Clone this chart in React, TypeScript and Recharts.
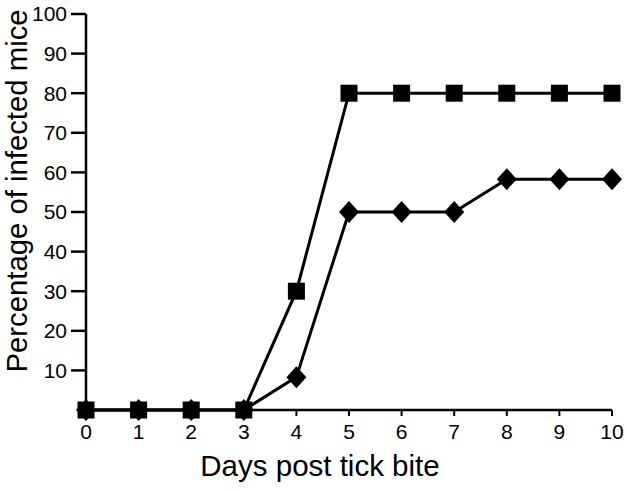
import React from "react";
import { LineChart, Line, XAxis, YAxis, Label } from "recharts";

const days = [0, 1, 2, 3, 4, 5, 6, 7, 8, 9, 10];
const squareSeries = [0, 0, 0, 0, 30, 80, 80, 80, 80, 80, 80];
const diamondSeries = [0, 0, 0, 0, 8.3, 50, 50, 50, 58.3, 58.3, 58.3];
const xTicks = [0, 1, 2, 3, 4, 5, 6, 7, 8, 9, 10];
const yTicks = [10, 20, 30, 40, 50, 60, 70, 80, 90, 100];

const data = days.map((d, i) => ({ day: d, sq: squareSeries[i], dia: diamondSeries[i] }));

const FONT = "'Liberation Sans', Arial, sans-serif";

const SquareDot = (props: any) => {
  const { cx, cy } = props;
  if (cx == null || cy == null) return null;
  const s = 17;
  return <rect x={cx - s / 2} y={cy - s / 2} width={s} height={s} fill="#000" />;
};

const DiamondDot = (props: any) => {
  const { cx, cy } = props;
  if (cx == null || cy == null) return null;
  const w = 10;
  const h = 11;
  return (
    <polygon
      points={`${cx},${cy - h} ${cx + w},${cy} ${cx},${cy + h} ${cx - w},${cy}`}
      fill="#000"
    />
  );
};

const YLabel = (props: any) => {
  const vb = props.viewBox || {};
  const x = 27;
  const y = (vb.y ?? 0) + (vb.height ?? 0) / 2 - 21;
  return (
    <text
      x={x}
      y={y}
      transform={`rotate(-90, ${x}, ${y})`}
      textAnchor="middle"
      style={{ fill: "#000", fontSize: 29.3, fontFamily: FONT }}
    >
      Percentage of infected mice
    </text>
  );
};

export default function App() {
  return (
    <div style={{ position: "absolute", left: 0, top: 0, width: 628, height: 491 }}>
      <LineChart
        width={628}
        height={491}
        data={data}
        margin={{ top: 14, right: 16, left: 0, bottom: 0 }}
      >
        <XAxis
          dataKey="day"
          type="number"
          domain={[0, 10]}
          ticks={xTicks}
          height={81}
          tickSize={6}
          tickMargin={8}
          axisLine={{ stroke: "#000", strokeWidth: 2.5 }}
          tickLine={{ stroke: "#000", strokeWidth: 2 }}
          tick={{ fill: "#000", fontSize: 21, fontFamily: FONT }}
        >
          <Label
            value="Days post tick bite"
            position="insideBottom"
            offset={15}
            dx={-29}
            style={{ fill: "#000", fontSize: 29.5, fontFamily: FONT }}
          />
        </XAxis>
        <YAxis
          type="number"
          domain={[0, 100]}
          ticks={yTicks}
          width={86}
          tickSize={15}
          tickMargin={4}
          axisLine={{ stroke: "#000", strokeWidth: 2.5 }}
          tickLine={{ stroke: "#000", strokeWidth: 2.5 }}
          tick={{ fill: "#000", fontSize: 21, fontFamily: FONT }}
        >
          <Label content={<YLabel />} />
        </YAxis>
        <Line
          dataKey="dia"
          stroke="#000"
          strokeWidth={3}
          dot={<DiamondDot />}
          activeDot={false}
          isAnimationActive={false}
        />
        <Line
          dataKey="sq"
          stroke="#000"
          strokeWidth={3}
          dot={<SquareDot />}
          activeDot={false}
          isAnimationActive={false}
        />
      </LineChart>
    </div>
  );
}
